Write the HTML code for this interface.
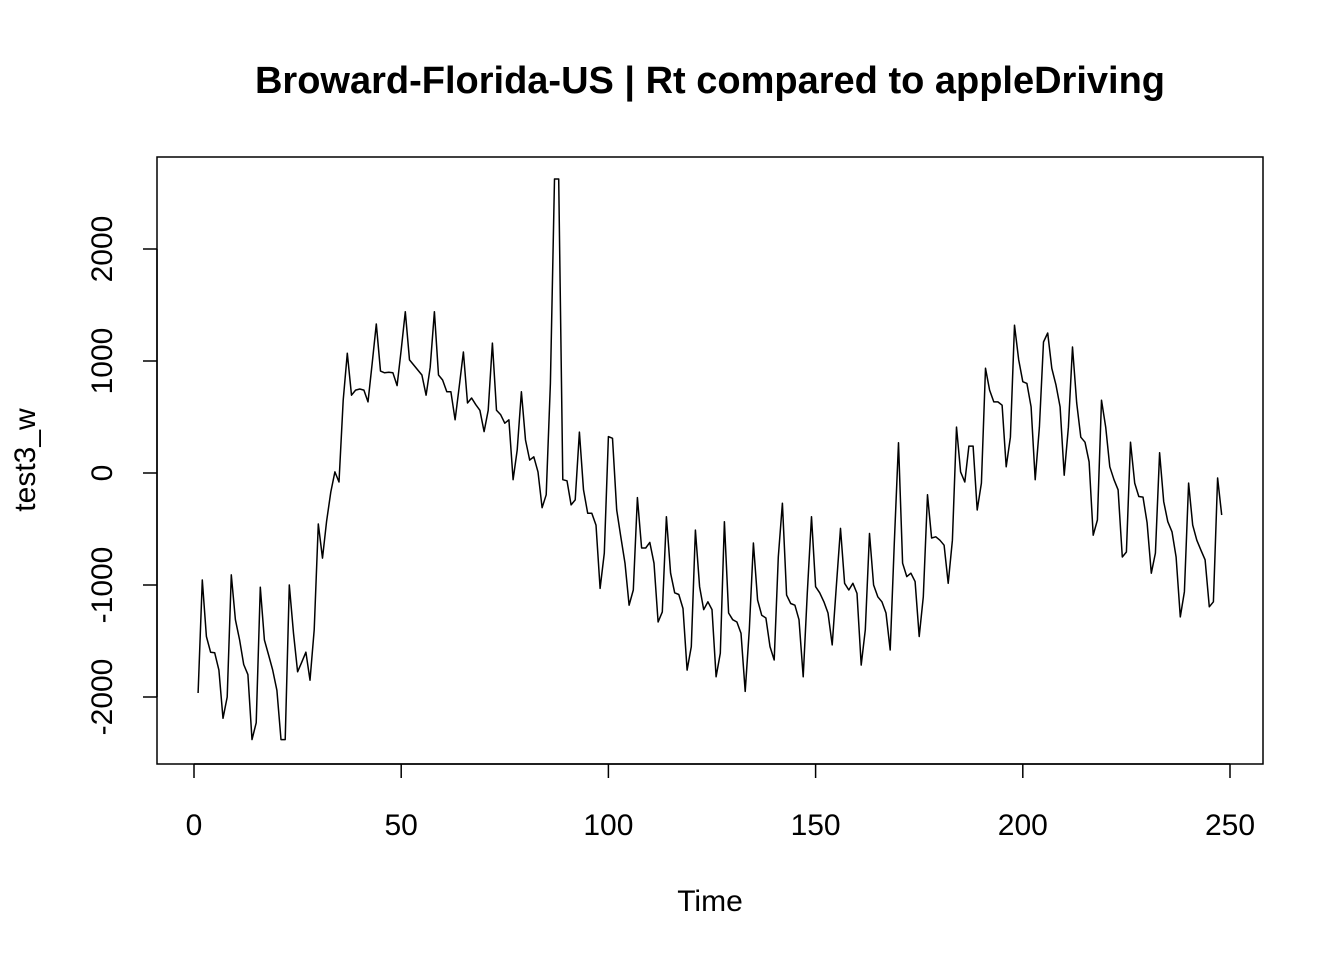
<!DOCTYPE html>
<html><head><meta charset="utf-8"><style>
html,body{margin:0;padding:0;background:#fff;}
svg text{font-family:"Liberation Sans",Arial,sans-serif;fill:#000;}
</style></head><body>
<svg id="chart" width="1344" height="960" viewBox="0 0 1344 960" xmlns="http://www.w3.org/2000/svg">
<rect width="1344" height="960" fill="#fff"/>
<text x="710" y="93" text-anchor="middle" font-size="38" font-weight="bold">Broward-Florida-US | Rt compared to appleDriving</text>
<rect x="157" y="157" width="1106" height="607" fill="none" stroke="#000" stroke-width="1.5"/>
<g id="xaxis"></g>
<g id="yaxis"></g>
<text x="710" y="911" text-anchor="middle" font-size="30">Time</text>
<text transform="translate(35,460) rotate(-90)" text-anchor="middle" font-size="30">test3_w</text>
<path id="series" fill="none" stroke="#000" stroke-width="1.5" stroke-linejoin="round"/>
</svg>
<script>
const xTicks = [0, 50, 100, 150, 200, 250];
const yTicks = [-2000, -1000, 0, 1000, 2000];
const values = [
-1964,-955,-1460,-1600,-1605,-1760,-2190,-2000,-910,-1310,
-1490,-1710,-1800,-2380,-2230,-1020,-1490,-1625,-1760,-1940,
-2380,-2380,-1000,-1430,-1775,-1690,-1600,-1850,-1400,-455,
-760,-430,-170,10,-80,650,1070,695,740,750,
740,635,980,1330,910,895,900,895,780,1100,
1440,1010,965,920,875,695,945,1440,875,830,
725,725,475,770,1080,625,670,610,560,370,
560,1160,560,520,445,475,-60,205,725,295,
115,145,10,-310,-195,800,2625,2625,-60,-70,
-285,-240,365,-150,-360,-360,-465,-1030,-715,325,
310,-330,-570,-805,-1180,-1045,-220,-670,-670,-620,
-805,-1330,-1240,-390,-895,-1070,-1085,-1210,-1760,-1550,
-510,-1015,-1220,-1150,-1220,-1820,-1610,-435,-1250,-1310,
-1330,-1430,-1950,-1400,-625,-1135,-1270,-1295,-1550,-1670,
-750,-270,-1090,-1165,-1180,-1310,-1820,-1070,-390,-1015,
-1070,-1150,-1250,-1535,-1015,-495,-985,-1045,-985,-1075,
-1715,-1400,-540,-1000,-1105,-1150,-1250,-1580,-625,270,
-805,-925,-895,-970,-1460,-1105,-195,-580,-570,-600,
-645,-985,-600,410,10,-80,240,240,-330,-90,
935,740,635,635,605,55,320,1320,1010,815,
800,590,-60,410,1170,1250,935,785,590,-20,
410,1125,625,320,275,100,-555,-420,650,410,
55,-60,-150,-750,-705,275,-90,-210,-215,-445,
-895,-715,180,-255,-435,-525,-750,-1285,-1060,-90,
-465,-600,-690,-775,-1195,-1150,-45,-375
];
const NS = "http://www.w3.org/2000/svg";
function xs(t){ return 194 + (t/250)*1036; }
function ys(v){ return 473 - v*0.112; }
const xg = document.getElementById('xaxis');
const yg = document.getElementById('yaxis');
function mk(tag, attrs, parent){ const e=document.createElementNS(NS,tag); for(const k in attrs) e.setAttribute(k,attrs[k]); parent.appendChild(e); return e; }
const xl = mk('line',{x1:xs(0),x2:xs(250),y1:764,y2:764,stroke:'#000','stroke-width':1.5},xg);


xTicks.forEach(t=>{
  const l = mk('line',{x1:xs(t),x2:xs(t),y1:764,y2:778,stroke:'#000','stroke-width':1.5},xg);
  
  
  const tx = mk('text',{x:xs(t),y:835,'text-anchor':'middle','font-size':30},xg);
  tx.textContent = t;
  
  
});
const yl = mk('line',{x1:157,x2:157,y1:ys(-2000),y2:ys(2000),stroke:'#000','stroke-width':1.5},yg);


yTicks.forEach(v=>{
  const l = mk('line',{x1:143,x2:157,y1:ys(v),y2:ys(v),stroke:'#000','stroke-width':1.5},yg);
  
  
  const tx = mk('text',{transform:`translate(112,${ys(v)}) rotate(-90)`,'text-anchor':'middle','font-size':30},yg);
  tx.textContent = v;
  
  
});
let d = '';
values.forEach((v,i)=>{ d += (i?'L':'M') + xs(i+1).toFixed(1) + ',' + ys(v).toFixed(1); });
document.getElementById('series').setAttribute('d', d);
</script>
</body></html>
